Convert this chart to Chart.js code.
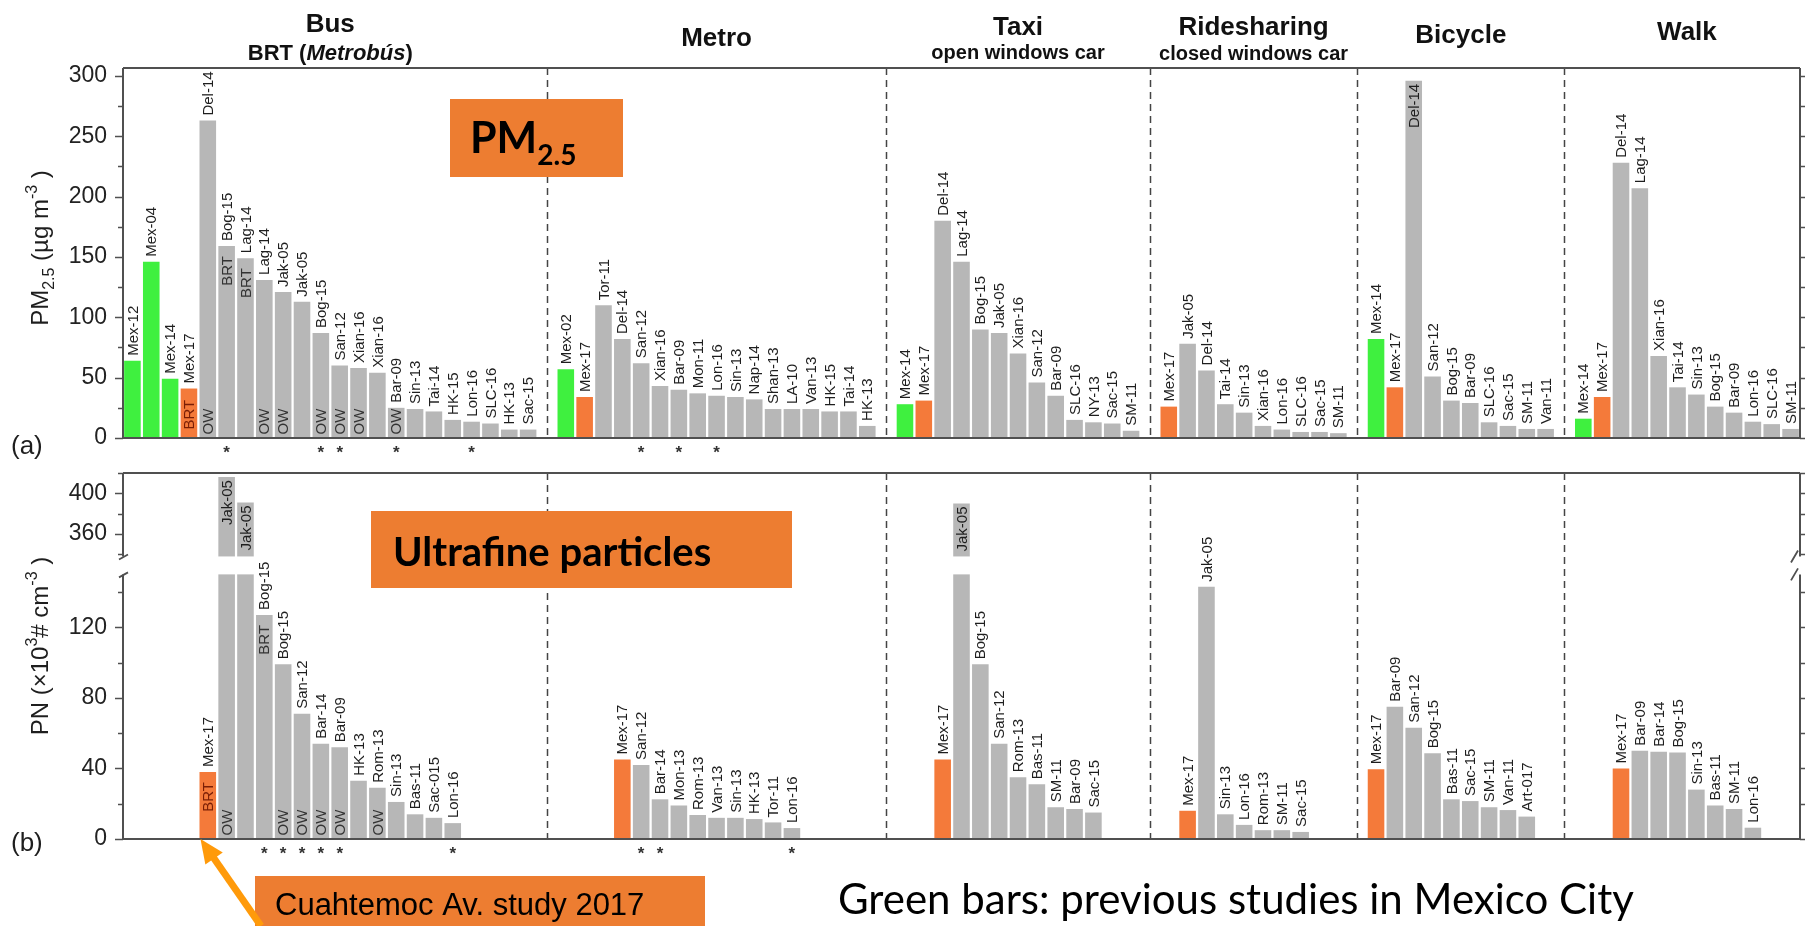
<!DOCTYPE html>
<html>
<head>
<meta charset="utf-8">
<title>Personal exposure by transport mode</title>
<script src="https://cdn.jsdelivr.net/npm/chart.js@4.4.1/dist/chart.umd.min.js"></script>
<style>
  html, body { margin: 0; background: #fff; }
  #wrap { position: relative; width: 1805px; height: 926px; }
  #wrap canvas { position: absolute; left: 0; top: 0; }
</style>
</head>
<body>
<div id="wrap">
  <canvas id="pmChart" width="1805" height="926"></canvas>
  <canvas id="pnChart" width="1805" height="926"></canvas>
</div>
<script>
// transport modes, left to right
const modes = ['Bus', 'Metro', 'Taxi', 'Ridesharing', 'Bicycle', 'Walk'];

// ---- (a) PM2.5, ug m-3 ----
const pmBusLabels = ['Mex-12', 'Mex-04', 'Mex-14', 'Mex-17', 'Del-14', 'Bog-15', 'Lag-14', 'Lag-14', 'Jak-05', 'Jak-05', 'Bog-15',
  'San-12', 'Xian-16', 'Xian-16', 'Bar-09', 'Sin-13', 'Tai-14', 'HK-15', 'Lon-16', 'SLC-16', 'HK-13', 'Sac-15'];
const pmBusValues = [64, 146, 49, 41, 263, 159, 149, 131, 121, 113, 87, 60, 58, 54, 25, 24, 22, 15, 13.5, 12, 7, 7];
const pmMetroLabels = ['Mex-02', 'Mex-17', 'Tor-11', 'Del-14', 'San-12', 'Xian-16', 'Bar-09', 'Mon-11', 'Lon-16', 'Sin-13', 'Nap-14',
  'Shan-13', 'LA-10', 'Van-13', 'HK-15', 'Tai-14', 'HK-13'];
const pmMetroValues = [57, 34, 110, 82, 62, 43, 40, 37, 35, 34, 32, 24, 24, 24, 22, 22, 10];
const pmTaxiLabels = ['Mex-14', 'Mex-17', 'Del-14', 'Lag-14', 'Bog-15', 'Jak-05', 'Xian-16', 'San-12', 'Bar-09', 'SLC-16', 'NY-13', 'Sac-15', 'SM-11'];
const pmTaxiValues = [28, 31, 180, 146, 90, 87, 70, 46, 35, 15, 13, 12, 6];
const pmRideLabels = ['Mex-17', 'Jak-05', 'Del-14', 'Tai-14', 'Sin-13', 'Xian-16', 'Lon-16', 'SLC-16', 'Sac-15', 'SM-11'];
const pmRideValues = [26, 78, 56, 28, 21, 10, 7, 5, 5, 4];
const pmBikeLabels = ['Mex-14', 'Mex-17', 'Del-14', 'San-12', 'Bog-15', 'Bar-09', 'SLC-16', 'Sac-15', 'SM-11', 'Van-11'];
const pmBikeValues = [82, 42, 296, 51, 31, 29, 13, 10, 7.5, 7.5];
const pmWalkLabels = ['Mex-14', 'Mex-17', 'Del-14', 'Lag-14', 'Xian-16', 'Tai-14', 'Sin-13', 'Bog-15', 'Bar-09', 'Lon-16', 'SLC-16', 'SM-11'];
const pmWalkValues = [16, 34, 228, 207, 68, 42, 36, 26, 21, 13.5, 11.5, 7.5];

// notes inside bars (OW = open windows, BRT) and studies flagged with *
const pmBusOW = [4, 7, 8, 10, 11, 12, 14];
const pmBusBRT = [[3, 'base'], [5, 'top'], [6, 'top']];
const pmBusStars = [5, 10, 11, 14, 18];
const pmMetroStars = [4, 6, 8];

const pmTicks = [0, 25, 50, 75, 100, 125, 150, 175, 200, 225, 250, 275, 300];
const pmTickLabels = [0, 50, 100, 150, 200, 250, 300];

// ---- (b) particle number, x10^3 # cm-3 ----
const pnBusLabels = ['Mex-17', 'Jak-05', 'Jak-05', 'Bog-15', 'Bog-15', 'San-12', 'Bar-14', 'Bar-09', 'HK-13', 'Rom-13', 'Sin-13',
  'Bas-11', 'Sac-015', 'Lon-16'];
const pnBusValues = [38, 416, 391, 127, 99, 71, 54, 52, 33, 29, 21, 14, 12, 9];
const pnMetroLabels = ['Mex-17', 'San-12', 'Bar-14', 'Mon-13', 'Rom-13', 'Van-13', 'Sin-13', 'HK-13', 'Tor-11', 'Lon-16'];
const pnMetroValues = [45, 42, 22.5, 19, 13.6, 12, 12, 11.3, 9.4, 6.2];
const pnTaxiLabels = ['Mex-17', 'Jak-05', 'Bog-15', 'San-12', 'Rom-13', 'Bas-11', 'SM-11', 'Bar-09', 'Sac-15'];
const pnTaxiValues = [45, 390, 99, 54, 35, 31, 18, 17, 15];
const pnRideLabels = ['Mex-17', 'Jak-05', 'Sin-13', 'Lon-16', 'Rom-13', 'SM-11', 'Sac-15'];
const pnRideValues = [16, 143, 14, 8, 5, 5, 4];
const pnBikeLabels = ['Mex-17', 'Bar-09', 'San-12', 'Bog-15', 'Bas-11', 'Sac-15', 'SM-11', 'Van-11', 'Art-017'];
const pnBikeValues = [39.5, 75, 63, 48.6, 22.5, 21.5, 18, 16.4, 12.7];
const pnWalkLabels = ['Mex-17', 'Bar-09', 'Bar-14', 'Bog-15', 'Sin-13', 'Bas-11', 'SM-11', 'Lon-16'];
const pnWalkValues = [40, 50, 49.5, 49, 28, 19, 17, 6.4];

const pnBusOW = [1, 4, 5, 6, 7, 9];
const pnBusBRT = [[0, 'top'], [3, 'top']];
const pnBusStars = [3, 4, 5, 6, 7, 13];
const pnMetroStars = [1, 2, 9];

const pnTicks = [0, 20, 40, 60, 80, 100, 120, 140, 340, 360, 380, 400, 420];
const pnTickLabels = [0, 40, 80, 120, 360, 400];

// broken y axis for (b): 0-150 below the break, 338-420 above it
const PN_LOW_MAX = 150;
const PN_HIGH_MIN = 338;
const PN_LOW_FRAC = 0.723;
const PN_GAP_FRAC = 0.049;

// layout: bar slots per mode, and empty slots before the first bar in (b)
const GROUP_SLOTS = [22, 17, 13, 10, 10, 12];
const PN_LEAD = [4, 3, 2, 1, 0, 2];

const GREEN = '#3ff03f';
const ORANGE = '#f47a3a';
const GRAY = '#b7b7b7';
const BOX = '#ed7d31';
const ARROW = '#ff9a0a';
const AXIS = '#505050';
const FONT = '"Liberation Sans", Arial, sans-serif';
const SLIDE = 'Lato, "Open Sans", sans-serif';

const pmGroups = [
  { labels: pmBusLabels, values: pmBusValues, ow: pmBusOW, brt: pmBusBRT, stars: pmBusStars },
  { labels: pmMetroLabels, values: pmMetroValues, stars: pmMetroStars },
  { labels: pmTaxiLabels, values: pmTaxiValues },
  { labels: pmRideLabels, values: pmRideValues },
  { labels: pmBikeLabels, values: pmBikeValues },
  { labels: pmWalkLabels, values: pmWalkValues }
];
const pnGroups = [
  { labels: pnBusLabels, values: pnBusValues, ow: pnBusOW, brt: pnBusBRT, stars: pnBusStars },
  { labels: pnMetroLabels, values: pnMetroValues, stars: pnMetroStars },
  { labels: pnTaxiLabels, values: pnTaxiValues },
  { labels: pnRideLabels, values: pnRideValues },
  { labels: pnBikeLabels, values: pnBikeValues },
  { labels: pnWalkLabels, values: pnWalkValues }
];

// one slot per category on the x axis, with an empty slot between modes
function buildSlots(groups, lead) {
  const slots = [];
  const ranges = [];
  const gaps = [];
  groups.forEach((g, gi) => {
    const start = slots.length;
    for (let k = 0; k < GROUP_SLOTS[gi]; k++) slots.push({ name: '', value: null, note: '', notePos: '', star: false });
    ranges.push([start, slots.length - 1]);
    const off = start + (lead ? lead[gi] : 0);
    g.labels.forEach((name, i) => { slots[off + i].name = name; slots[off + i].value = g.values[i]; });
    (g.ow || []).forEach(i => { slots[off + i].note = 'OW'; slots[off + i].notePos = 'base'; });
    (g.brt || []).forEach(([i, pos]) => { slots[off + i].note = 'BRT'; slots[off + i].notePos = pos; });
    (g.stars || []).forEach(i => { slots[off + i].star = true; });
    if (gi < groups.length - 1) {
      gaps.push(slots.length);
      slots.push({ name: '', value: null, note: '', notePos: '', star: false });
    }
  });
  return { slots, ranges, gaps };
}

function barColor(name) {
  if (name === 'Mex-17') return ORANGE;
  if (name.startsWith('Mex')) return GREEN;
  return GRAY;
}

class BrokenLinearScale extends Chart.LinearScale {
  static id = 'brokenLinear';
  static defaults = {};
  getPixelForValue(value) {
    if (value === null || isNaN(value)) return NaN;
    let d;
    if (value <= PN_LOW_MAX) {
      d = value / PN_LOW_MAX * PN_LOW_FRAC;
    } else if (value >= PN_HIGH_MIN) {
      d = PN_LOW_FRAC + PN_GAP_FRAC + (value - PN_HIGH_MIN) / (this.max - PN_HIGH_MIN) * (1 - PN_LOW_FRAC - PN_GAP_FRAC);
    } else {
      d = PN_LOW_FRAC + (value - PN_LOW_MAX) / (PN_HIGH_MIN - PN_LOW_MAX) * PN_GAP_FRAC;
    }
    return this.getPixelForDecimal(d);
  }
}
Chart.register(BrokenLinearScale);

function drawRich(ctx, parts, x, y, align) {
  const widths = parts.map(p => { ctx.font = p.font; return ctx.measureText(p.text).width; });
  const total = widths.reduce((a, b) => a + b, 0);
  let cx = align === 'center' ? x - total / 2 : x;
  ctx.textAlign = 'left';
  ctx.textBaseline = 'alphabetic';
  parts.forEach((p, i) => {
    ctx.font = p.font;
    ctx.fillText(p.text, cx, y + (p.dy || 0));
    cx += widths[i];
  });
}

function drawDividers(chart, gaps) {
  const ctx = chart.ctx, a = chart.chartArea, x = chart.scales.x;
  ctx.save();
  ctx.strokeStyle = '#444';
  ctx.lineWidth = 1.5;
  ctx.setLineDash([7, 5]);
  gaps.forEach(i => {
    const px = Math.round(x.getPixelForValue(i)) + 0.5;
    ctx.beginPath();
    ctx.moveTo(px, a.top);
    ctx.lineTo(px, a.bottom);
    ctx.stroke();
  });
  ctx.restore();
}

function drawBarText(chart, slots) {
  const ctx = chart.ctx, a = chart.chartArea;
  const bars = chart.getDatasetMeta(0).data;
  ctx.save();
  ctx.font = `15px ${FONT}`;
  ctx.textBaseline = 'middle';
  slots.forEach((s, i) => {
    if (!s.name) return;
    const b = bars[i];
    const top = Math.min(b.y, b.base);
    const w = ctx.measureText(s.name).width;
    const above = top - 5 - w > a.top + 1;
    ctx.fillStyle = '#1e1e1e';
    ctx.save();
    ctx.translate(b.x + 1, above ? top - 5 : top + 3);
    ctx.rotate(-Math.PI / 2);
    ctx.textAlign = above ? 'left' : 'right';
    ctx.fillText(s.name, 0, 0);
    ctx.restore();

    if (s.note) {
      ctx.fillStyle = s.name === 'Mex-17' ? '#7a1e05' : '#333';
      ctx.save();
      if (s.notePos === 'base') {
        ctx.translate(b.x + 1, b.base - (s.note === 'BRT' ? 8 : 3));
        ctx.rotate(-Math.PI / 2);
        ctx.textAlign = 'left';
      } else {
        ctx.translate(b.x + 1, top + 10);
        ctx.rotate(-Math.PI / 2);
        ctx.textAlign = 'right';
      }
      ctx.fillText(s.note, 0, 0);
      ctx.restore();
    }
    if (s.star) {
      ctx.fillStyle = '#333';
      ctx.font = `bold 17px ${FONT}`;
      ctx.textAlign = 'center';
      ctx.textBaseline = 'alphabetic';
      ctx.fillText('*', b.x, a.bottom + 20);
      ctx.font = `15px ${FONT}`;
      ctx.textBaseline = 'middle';
    }
  });
  ctx.restore();
}

// box, tick marks on both sides, optional break in the vertical sides
function drawFrame(chart, ticks, majors, brk) {
  const ctx = chart.ctx, a = chart.chartArea, y = chart.scales.y;
  ctx.save();
  ctx.strokeStyle = AXIS;
  ctx.lineWidth = 2;
  ctx.beginPath();
  ctx.moveTo(a.left, a.top); ctx.lineTo(a.right, a.top);
  ctx.moveTo(a.left, a.bottom); ctx.lineTo(a.right, a.bottom);
  [a.left, a.right].forEach(px => {
    if (brk) {
      ctx.moveTo(px, a.top); ctx.lineTo(px, brk[0]);
      ctx.moveTo(px, brk[1]); ctx.lineTo(px, a.bottom);
    } else {
      ctx.moveTo(px, a.top); ctx.lineTo(px, a.bottom);
    }
  });
  ctx.stroke();

  ctx.lineWidth = 1.5;
  ctx.beginPath();
  ticks.forEach(v => {
    const py = Math.round(y.getPixelForValue(v)) + 0.5;
    const len = majors.includes(v) ? 8 : 5;
    ctx.moveTo(a.left - len, py); ctx.lineTo(a.left, py);
    ctx.moveTo(a.right, py); ctx.lineTo(a.right + len, py);
  });
  ctx.stroke();

  if (brk) {
    ctx.lineWidth = 1.8;
    ctx.beginPath();
    brk.forEach(py => {
      ctx.moveTo(a.left - 4, py + 3); ctx.lineTo(a.left + 5, py - 2);
      ctx.moveTo(a.right - 9, py + 6); ctx.lineTo(a.right - 2, py - 6);
    });
    ctx.stroke();
  }
  ctx.restore();
}

function drawYTitle(ctx, parts, x, y) {
  ctx.save();
  ctx.fillStyle = '#1e1e1e';
  ctx.translate(x, y);
  ctx.rotate(-Math.PI / 2);
  drawRich(ctx, parts, 0, 0, 'center');
  ctx.restore();
}

const pm = buildSlots(pmGroups, null);
const pn = buildSlots(pnGroups, PN_LEAD);

// mode headings above (a)
const headings = [
  [{ y: 32, parts: [{ text: modes[0], font: `bold 26px ${FONT}` }] },
   { y: 60, parts: [{ text: 'BRT (', font: `bold 22px ${FONT}` }, { text: 'Metrobús', font: `italic bold 22px ${FONT}` }, { text: ')', font: `bold 22px ${FONT}` }] }],
  [{ y: 46, parts: [{ text: modes[1], font: `bold 26px ${FONT}` }] }],
  [{ y: 35, parts: [{ text: modes[2], font: `bold 26px ${FONT}` }] },
   { y: 59, parts: [{ text: 'open windows car', font: `bold 20px ${FONT}` }] }],
  [{ y: 35, parts: [{ text: modes[3], font: `bold 26px ${FONT}` }] },
   { y: 60, parts: [{ text: 'closed windows car', font: `bold 20px ${FONT}` }] }],
  [{ y: 43, parts: [{ text: modes[4], font: `bold 26px ${FONT}` }] }],
  [{ y: 40, parts: [{ text: modes[5], font: `bold 26px ${FONT}` }] }]
];

const pmDecor = {
  id: 'pmDecor',
  afterDatasetsDraw(chart) {
    const ctx = chart.ctx, x = chart.scales.x;
    drawDividers(chart, pm.gaps);
    drawBarText(chart, pm.slots);
    drawFrame(chart, pmTicks, pmTickLabels, null);

    ctx.save();
    ctx.fillStyle = '#111';
    pm.ranges.forEach(([s, e], gi) => {
      const cx = (x.getPixelForValue(s) + x.getPixelForValue(e)) / 2;
      headings[gi].forEach(line => drawRich(ctx, line.parts, cx, line.y, 'center'));
    });
    drawYTitle(ctx, [
      { text: 'PM', font: `24px ${FONT}` },
      { text: '2.5', font: `16px ${FONT}`, dy: 6 },
      { text: ' (µg m', font: `24px ${FONT}` },
      { text: '-3', font: `16px ${FONT}`, dy: -11 },
      { text: ' )', font: `24px ${FONT}` }
    ], 48, 248);
    ctx.fillStyle = '#1e1e1e';
    drawRich(ctx, [{ text: '(a)', font: `26px ${FONT}` }], 11, 454, 'left');

    ctx.fillStyle = BOX;
    ctx.fillRect(450, 99, 173, 78);
    ctx.fillStyle = '#000';
    drawRich(ctx, [
      { text: 'PM', font: `bold 43px ${SLIDE}` },
      { text: '2.5', font: `bold 28px ${SLIDE}`, dy: 12 }
    ], 470, 153, 'left');
    ctx.restore();
  }
};

const pnDecor = {
  id: 'pnDecor',
  afterDatasetsDraw(chart) {
    const ctx = chart.ctx, a = chart.chartArea, y = chart.scales.y;
    const gapTop = y.getPixelForValue(PN_HIGH_MIN);
    const gapBottom = y.getPixelForValue(PN_LOW_MAX);
    ctx.save();
    ctx.fillStyle = '#fff';
    ctx.fillRect(a.left + 1, gapTop, a.right - a.left - 2, gapBottom - gapTop);
    ctx.restore();

    drawDividers(chart, pn.gaps);
    drawBarText(chart, pn.slots);
    drawFrame(chart, pnTicks, pnTickLabels, [gapTop, gapBottom]);

    ctx.save();
    drawYTitle(ctx, [
      { text: 'PN (×10', font: `24px ${FONT}` },
      { text: '3', font: `16px ${FONT}`, dy: -11 },
      { text: '# cm', font: `24px ${FONT}` },
      { text: '-3', font: `16px ${FONT}`, dy: -11 },
      { text: ' )', font: `24px ${FONT}` }
    ], 48, 646);
    ctx.fillStyle = '#1e1e1e';
    drawRich(ctx, [{ text: '(b)', font: `26px ${FONT}` }], 11, 851, 'left');

    ctx.fillStyle = BOX;
    ctx.fillRect(371, 511, 421, 77);
    ctx.fillStyle = '#000';
    ctx.font = `bold 40px ${SLIDE}`;
    ctx.textAlign = 'left';
    ctx.textBaseline = 'alphabetic';
    ctx.fillText('Ultrafine particles', 393, 566, 353);

    ctx.fillStyle = BOX;
    ctx.fillRect(255, 876, 450, 50);
    ctx.fillStyle = '#000';
    ctx.font = `31px ${FONT}`;
    ctx.fillText('Cuahtemoc Av. study 2017', 275, 915, 377);

    ctx.font = `42px ${SLIDE}`;
    ctx.fillText('Green bars: previous studies in Mexico City', 838, 914, 834);

    // arrow pointing at the Mex-17 bus bar
    const bar = chart.getDatasetMeta(0).data[pn.slots.findIndex(s => s.name === 'Mex-17')];
    const tipX = bar.x - bar.width / 2 + 1, tipY = a.bottom;
    const ang = Math.atan2(926 - tipY, 261 - tipX);
    ctx.strokeStyle = ARROW;
    ctx.fillStyle = ARROW;
    ctx.lineWidth = 7;
    ctx.beginPath();
    ctx.moveTo(261, 926);
    ctx.lineTo(tipX + Math.cos(ang) * 18, tipY + Math.sin(ang) * 18);
    ctx.stroke();
    ctx.beginPath();
    ctx.moveTo(tipX, tipY);
    ctx.lineTo(tipX + Math.cos(ang + 0.42) * 26, tipY + Math.sin(ang + 0.42) * 26);
    ctx.lineTo(tipX + Math.cos(ang - 0.42) * 26, tipY + Math.sin(ang - 0.42) * 26);
    ctx.closePath();
    ctx.fill();
    ctx.restore();
  }
};

function yAxis(type, max, ticks, labels) {
  return {
    type: type,
    min: 0,
    max: max,
    afterBuildTicks: s => { s.ticks = ticks.map(v => ({ value: v })); },
    afterFit: s => { s.width = 123; },
    border: { display: false },
    grid: { drawOnChartArea: false, drawTicks: true, tickLength: 8, tickColor: 'rgba(0,0,0,0)' },
    ticks: {
      autoSkip: false,
      padding: 8,
      color: '#222',
      font: { family: FONT, size: 23 },
      callback: v => labels.includes(v) ? String(v) : ''
    }
  };
}

function makePanel(id, data, yOpts, pad, plugin) {
  return new Chart(document.getElementById(id), {
    type: 'bar',
    data: {
      labels: data.slots.map((s, i) => String(i)),
      datasets: [{
        data: data.slots.map(s => s.value),
        backgroundColor: data.slots.map(s => barColor(s.name)),
        borderWidth: 0,
        barPercentage: 0.88,
        categoryPercentage: 1.0
      }]
    },
    options: {
      responsive: false,
      devicePixelRatio: 1,
      animation: false,
      events: [],
      layout: { padding: pad },
      plugins: { legend: { display: false }, tooltip: { enabled: false } },
      scales: {
        x: { type: 'category', display: false },
        y: yOpts
      }
    },
    plugins: [plugin]
  });
}

makePanel('pmChart', pm, yAxis('linear', 306.6, pmTicks, pmTickLabels),
  { left: 0, right: 5, top: 68, bottom: 488 }, pmDecor);
makePanel('pnChart', pn, yAxis('brokenLinear', 420, pnTicks, pnTickLabels),
  { left: 0, right: 5, top: 473, bottom: 87 }, pnDecor);
</script>
</body>
</html>
